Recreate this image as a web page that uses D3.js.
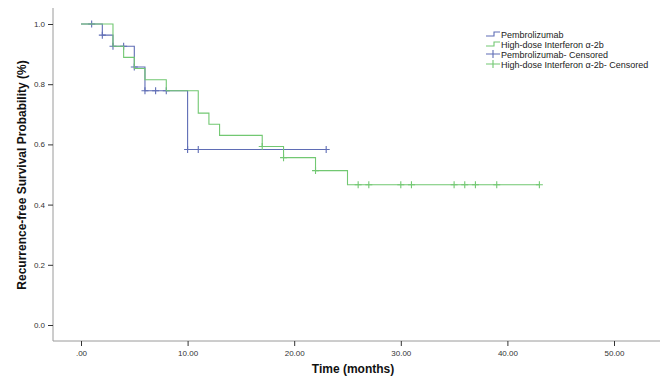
<!DOCTYPE html>
<html>
<head>
<meta charset="utf-8">
<script src="https://cdn.jsdelivr.net/npm/d3@7"></script>
<style>
  body { margin: 0; background: #fff; }
  text { font-family: "Liberation Sans", Arial, sans-serif; }
</style>
</head>
<body>
<div id="chart"></div>
<script>
// Kaplan-Meier steps: [time, survival]
const pembroSteps = [[0, 1], [2, 0.963], [3, 0.926], [5, 0.857], [6, 0.778], [10, 0.583]];
const pembroEnd = 23;
const pembroCensored = [1, 2, 3, 4, 5, 6, 7, 8, 10, 11, 23];

const ifnSteps = [[0, 1], [3, 0.926], [4, 0.889], [5, 0.852], [6, 0.815], [8, 0.778],
  [11, 0.704], [12, 0.667], [13, 0.630], [17, 0.593], [19, 0.556], [22, 0.513], [25, 0.466]];
const ifnEnd = 43;
const ifnCensored = [17, 19, 22, 26, 27, 30, 31, 35, 36, 37, 39, 43];

const xTicks = [0, 10, 20, 30, 40, 50];
const yTicks = [0, 0.2, 0.4, 0.6, 0.8, 1.0];
const legendLabels = ['Pembrolizumab', 'High-dose Interferon \u03b1-2b',
  'Pembrolizumab- Censored', 'High-dose Interferon \u03b1-2b- Censored'];

const width = 666, height = 377;
const blue = '#5f6db5', green = '#72c872', axisColor = '#9a9a9a';

const svg = d3.select('#chart').append('svg').attr('width', width).attr('height', height);

const x = d3.scaleLinear().domain([0, 50]).range([81, 614]);
const y = d3.scaleLinear().domain([0, 1]).range([325, 24]);

/* ---
 * Axes drawn SPSS-style: grey frame lines, short ticks
 */
svg.append('line').attr('x1', 53).attr('x2', 53).attr('y1', 8).attr('y2', 341)
   .attr('stroke', axisColor);
svg.append('line').attr('x1', 53).attr('x2', 660).attr('y1', 341).attr('y2', 341)
   .attr('stroke', axisColor);

const xAxis = svg.append('g').attr('transform', 'translate(0,341)')
  .call(d3.axisBottom(x).tickValues(xTicks).tickSize(5).tickFormat(d => d === 0 ? '.00' : d3.format('.2f')(d)));
const yAxis = svg.append('g').attr('transform', 'translate(53,0)')
  .call(d3.axisLeft(y).tickValues(yTicks).tickSize(5).tickFormat(d3.format('.1f')));

[xAxis, yAxis].forEach(g => {
  g.select('.domain').remove();
  g.selectAll('line').attr('stroke', '#333');
  g.selectAll('text').attr('font-size', 8).attr('fill', '#333')
   .attr('font-family', '"Liberation Sans", Arial, sans-serif');
});
xAxis.selectAll('text').attr('dy', '0.9em');

svg.append('text').attr('x', 353).attr('y', 373).attr('text-anchor', 'middle')
   .attr('font-size', 12).attr('font-weight', 'bold').attr('fill', '#111')
   .text('Time (months)');
svg.append('text').attr('transform', 'translate(26,175) rotate(-90)')
   .attr('text-anchor', 'middle').attr('font-size', 12).attr('font-weight', 'bold')
   .attr('fill', '#111').text('Recurrence-free Survival Probability (%)');

/* ---
 * Helper: survival at time t
 */
function survAt(steps, t) {
  let s = 1;
  steps.forEach(d => { if (d[0] <= t) s = d[1]; });
  return s;
}

function drawCurve(steps, end, censored, color) {
  const pts = steps.concat([[end, steps[steps.length - 1][1]]]);
  const line = d3.line().x(d => x(d[0])).y(d => y(d[1])).curve(d3.curveStepAfter);
  svg.append('path').attr('d', line(pts)).attr('fill', 'none')
     .attr('stroke', color).attr('stroke-width', 1.1);

  svg.append('g').selectAll('path').data(censored).enter().append('path')
     .attr('d', t => {
       const cx = x(t), cy = y(survAt(steps, t));
       return `M${cx - 3.5},${cy}H${cx + 3.5}M${cx},${cy - 3.5}V${cy + 3.5}`;
     })
     .attr('stroke', color).attr('stroke-width', 1.1);
}

drawCurve(pembroSteps, pembroEnd, pembroCensored, blue);
drawCurve(ifnSteps, ifnEnd, ifnCensored, green);

/* ---
 * Legend
 */
const legend = svg.append('g').attr('transform', 'translate(486,34)');
const colors = [blue, green, blue, green];
legendLabels.forEach((label, i) => {
  const g = legend.append('g').attr('transform', `translate(0,${i * 10})`);
  if (i < 2) {
    g.append('path').attr('d', 'M0,2H8V-2H14').attr('fill', 'none')
     .attr('stroke', colors[i]).attr('stroke-width', 1.1);
  } else {
    g.append('path').attr('d', 'M0,0H14M7,-4V4').attr('stroke', colors[i]).attr('stroke-width', 1.1);
  }
  g.append('text').attr('x', 15).attr('y', 3.5).attr('font-size', 9).attr('fill', '#222')
   .attr('textLength', null).text(label);
});
</script>
</body>
</html>
